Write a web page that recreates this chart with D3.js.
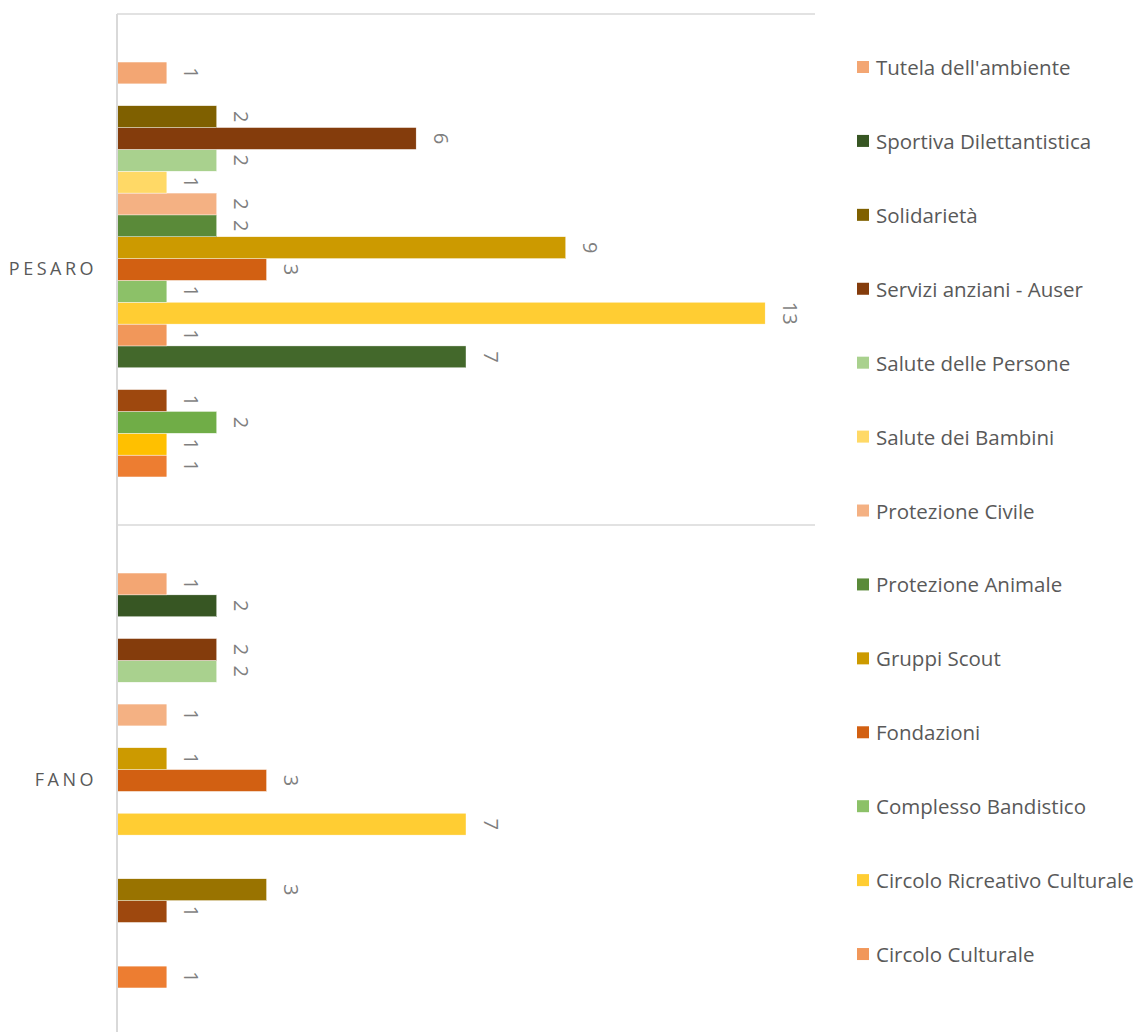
<!DOCTYPE html>
<html><head><meta charset="utf-8">
<script src="https://cdn.jsdelivr.net/npm/d3@7"></script>
<style>html,body{margin:0;padding:0;background:#fff;} svg{display:block;font-family:"Open Sans",sans-serif;}</style>
</head><body><svg id="chart" width="1142" height="1032"></svg>
<script>
// ---- data ----
const categories = ["PESARO", "FANO"];
// series in plotting order (series 1 drawn at the bottom of each group)
const seriesNames = [
  "Serie 1", "Serie 2", "Serie 3", "Serie 4", "Serie 5", "Serie 6",
  "Circolo Culturale", "Circolo Ricreativo Culturale", "Complesso Bandistico",
  "Fondazioni", "Gruppi Scout", "Protezione Animale", "Protezione Civile",
  "Salute dei Bambini", "Salute delle Persone", "Servizi anziani - Auser",
  "Solidarietà", "Sportiva Dilettantistica", "Tutela dell'ambiente"
];
const pesaroValues = [1, 1, 2, 1, null, 7, 1, 13, 1, 3, 9, 2, 2, 1, 2, 6, 2, null, 1];
const fanoValues   = [1, null, null, 1, 3, null, null, 7, null, 3, 1, null, 1, null, 2, 2, null, 2, 1];
const valueMax = 14;
// legend shows the last 13 series, top to bottom
const legendSeries = seriesNames.slice(6).reverse();

// ---- styles ----
const palette = [
  "#ED7D31", "#FFC000", "#70AD47", "#9E480E", "#997300", "#43682B",
  "#F1975A", "#FFCD33", "#8CC168", "#D26012", "#CC9A00", "#5A8A39",
  "#F4B183", "#FFD966", "#A9D18E", "#843C0C", "#7F6000", "#375623",
  "#F3A673"
];

const valuesByCat = { "PESARO": pesaroValues, "FANO": fanoValues };

const svg = d3.select("#chart");
const plot = { left: 117, right: 815, top: 14, bottom: 1036 };

const x = d3.scaleLinear().domain([0, valueMax]).range([plot.left, plot.right]);
const y0 = d3.scaleBand().domain(categories).range([plot.top, plot.bottom]).padding(0);
const y1 = d3.scaleBand()
  .domain(d3.range(seriesNames.length).reverse())
  .range([0, y0.bandwidth()])
  .paddingInner(0).paddingOuter(2.2);
const color = d3.scaleOrdinal().domain(seriesNames).range(palette);

// category gridlines (group separators)
const bounds = categories.map(c => y0(c)).concat([y0(categories[categories.length - 1]) + y0.bandwidth()]);
svg.append("g").selectAll("line").data(bounds).join("line")
  .attr("x1", plot.left).attr("x2", plot.right)
  .attr("y1", d => d).attr("y2", d => d)
  .attr("stroke", "#d9d9d9").attr("stroke-width", 1.5);

// bars
const groups = svg.append("g").selectAll("g").data(categories).join("g")
  .attr("transform", c => `translate(0,${y0(c)})`);

const items = c => valuesByCat[c].map((v, i) => ({ c, i, v })).filter(d => d.v != null);

groups.selectAll("rect").data(c => items(c)).join("rect")
  .attr("x", x(0))
  .attr("y", d => y1(d.i))
  .attr("width", d => x(d.v) - x(0))
  .attr("height", y1.bandwidth())
  .attr("fill", d => color(seriesNames[d.i]))
  .attr("stroke", "#ffffff").attr("stroke-width", 0.4);

// data labels (rotated)
groups.selectAll("text.lbl").data(c => items(c)).join("text")
  .attr("class", "lbl")
  .attr("transform", d => `translate(${x(d.v) + 25},${y1(d.i) + y1.bandwidth() / 2}) rotate(90)`)
  .attr("text-anchor", "middle")
  .attr("dominant-baseline", "central")
  .attr("font-size", 20)
  .attr("fill", "#7f7f7f")
  .text(d => d.v);

// category axis
const yAxis = svg.append("g")
  .attr("transform", `translate(${plot.left},0)`)
  .call(d3.axisLeft(y0).tickSize(0).tickPadding(20));
yAxis.select(".domain").remove();
yAxis.selectAll("text")
  .attr("font-family", "'Open Sans', sans-serif")
  .attr("font-size", 18)
  .attr("fill", "#595959")
  .attr("letter-spacing", "3.5px");

// vertical axis line
svg.append("line")
  .attr("x1", plot.left).attr("x2", plot.left)
  .attr("y1", plot.top).attr("y2", plot.bottom)
  .attr("stroke", "#d9d9d9").attr("stroke-width", 2);

// legend
const legend = svg.append("g").selectAll("g").data(legendSeries).join("g")
  .attr("transform", (d, i) => `translate(857,${67 + i * 73.92})`);
legend.append("rect")
  .attr("x", 0).attr("y", -6).attr("width", 12).attr("height", 12)
  .attr("fill", d => color(d));
legend.append("text")
  .attr("x", 19).attr("y", 0)
  .attr("dominant-baseline", "central")
  .attr("font-size", 20.5)
  .attr("fill", "#595959")
  .text(d => d);
</script>
</body></html>
